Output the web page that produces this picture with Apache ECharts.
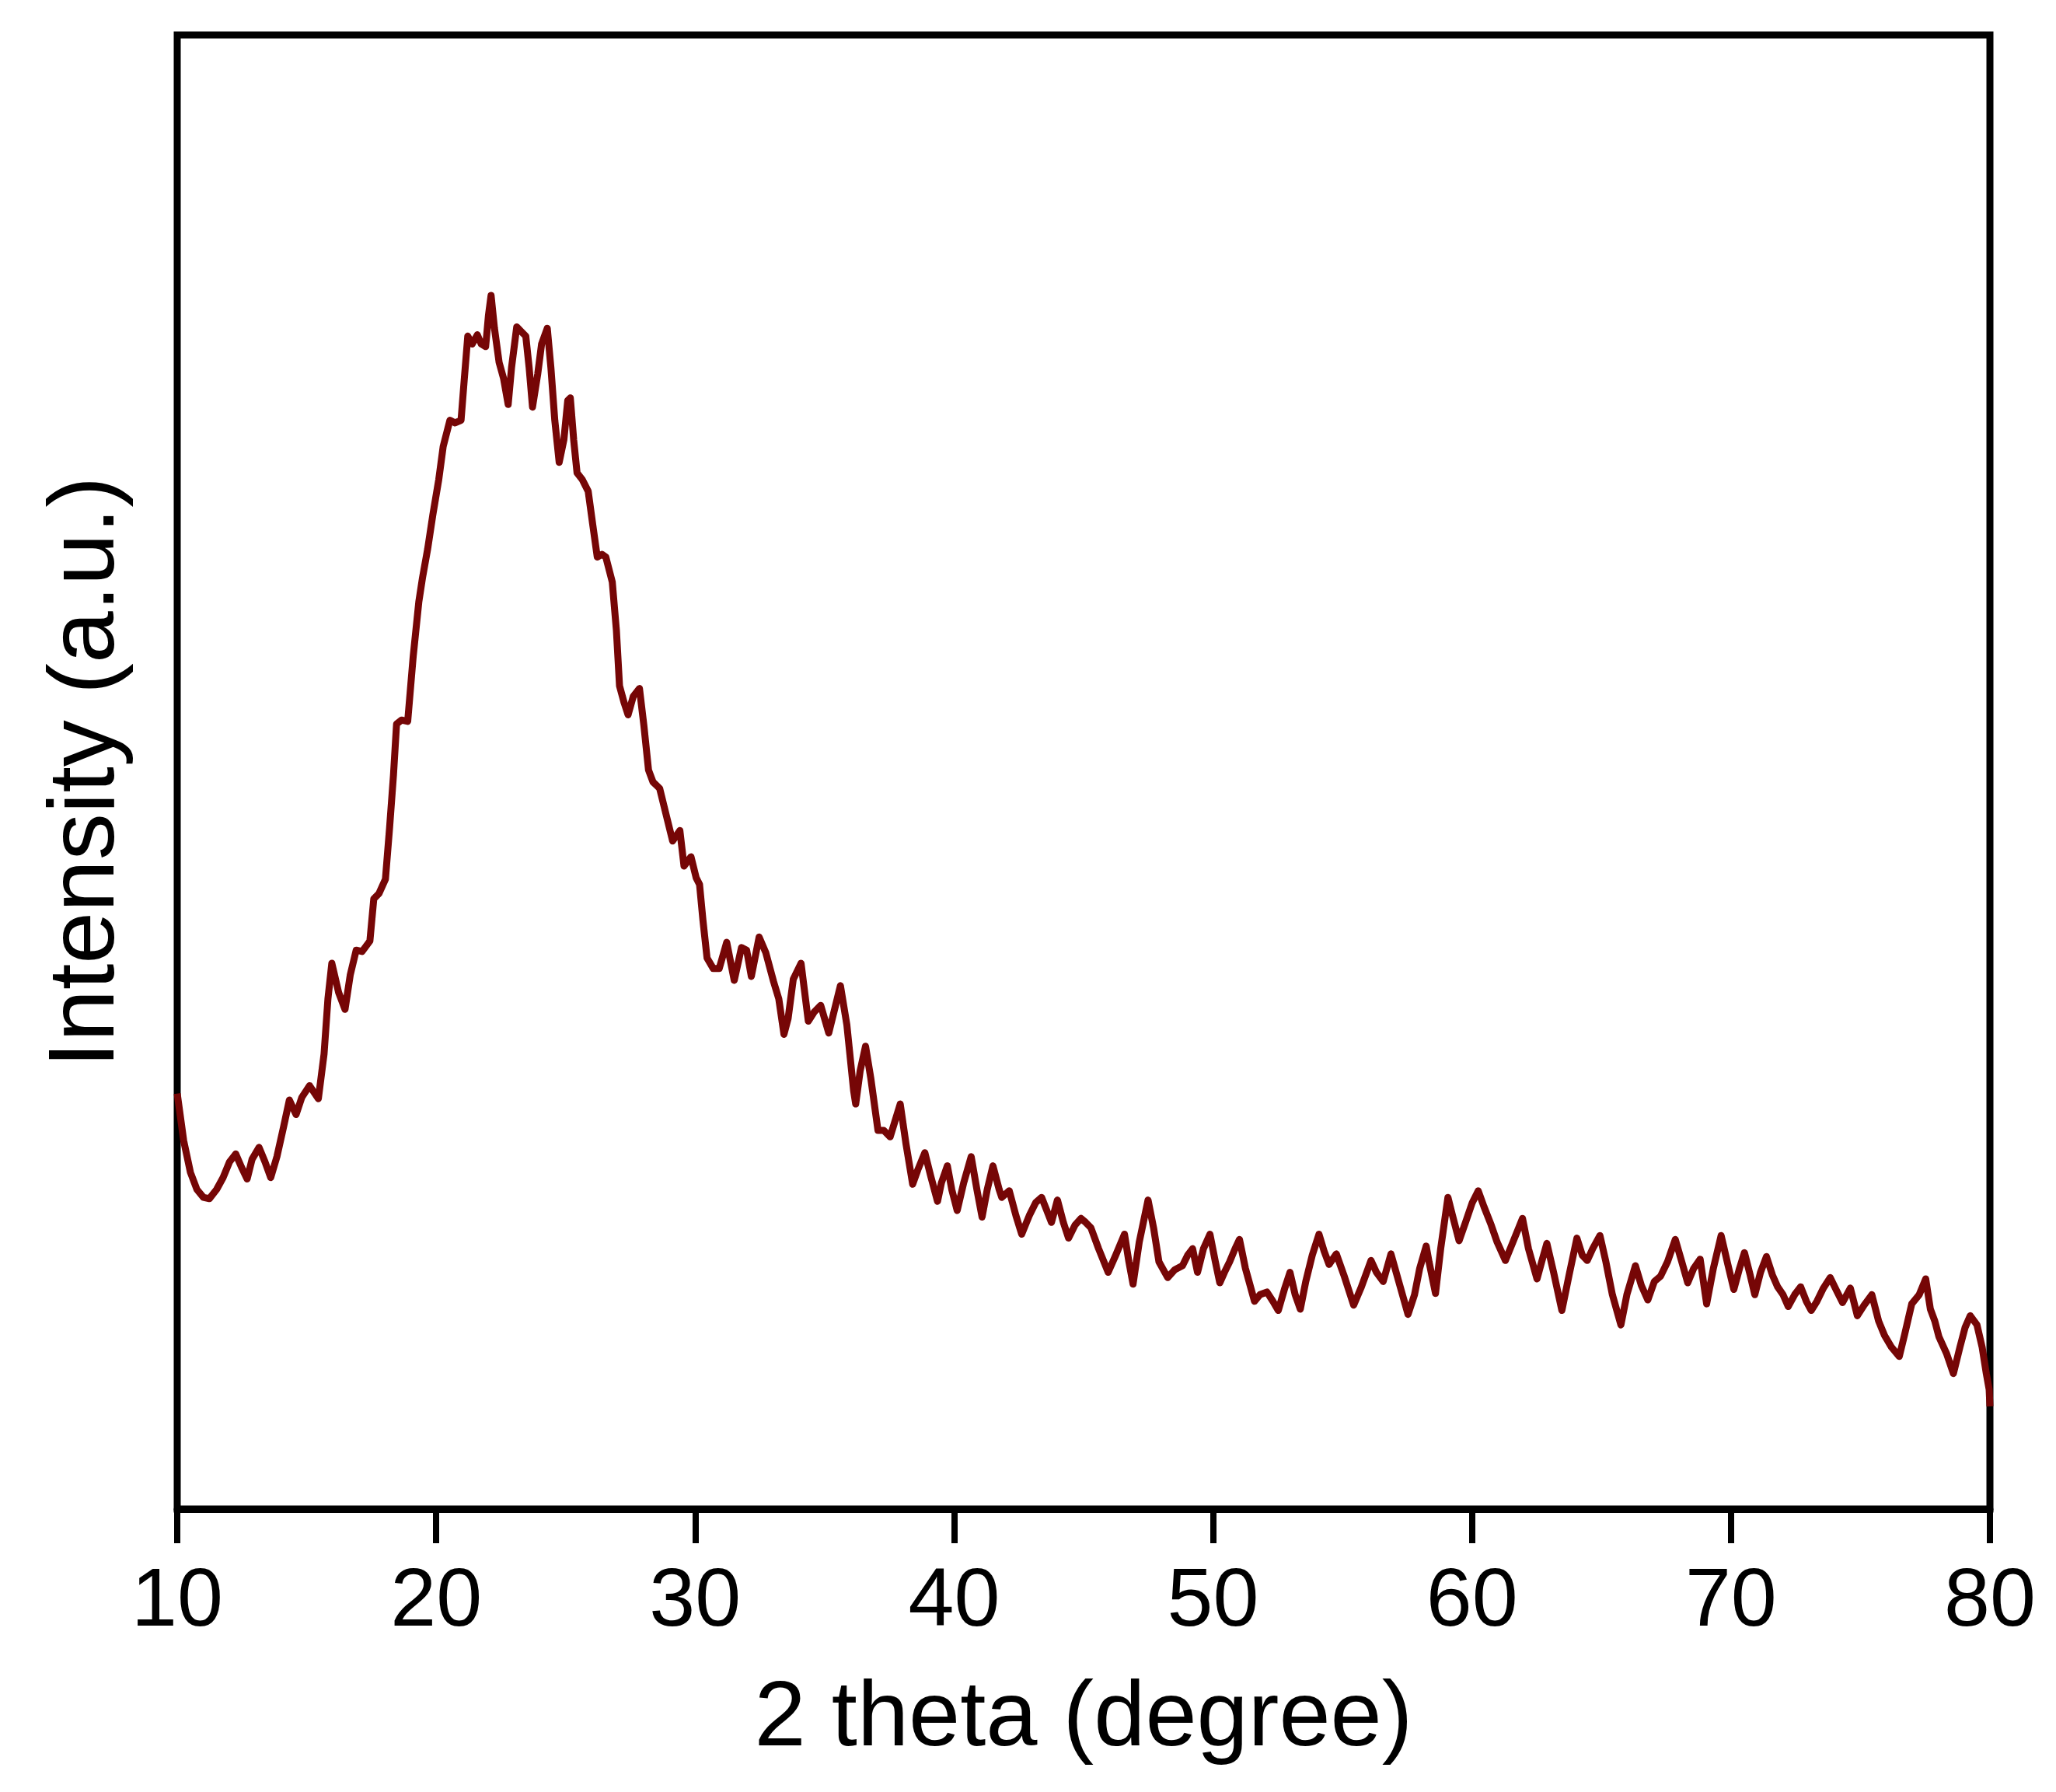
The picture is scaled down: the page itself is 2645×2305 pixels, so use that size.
<!DOCTYPE html>
<html>
<head>
<meta charset="utf-8">
<title>XRD pattern</title>
<script src="https://cdn.jsdelivr.net/npm/echarts@6/dist/echarts.min.js"></script>
<style>
  html, body { margin: 0; padding: 0; background: #fff; }
  #chart { width: 2645px; height: 2305px; }
</style>
</head>
<body>
<div id="chart"></div>
<script>
// 2 theta (degree)
var twoTheta = [
  10.00, 10.25, 10.51, 10.76, 11.01, 11.24, 11.52, 11.77, 12.02, 12.26, 12.48, 12.70, 12.89, 13.16, 13.39, 13.61, 13.85,
  14.10, 14.33, 14.59, 14.81, 15.11, 15.45, 15.67, 15.82, 15.97, 16.23, 16.48, 16.68, 16.91, 17.14, 17.44, 17.59, 17.79,
  18.04, 18.20, 18.35, 18.47, 18.66, 18.90, 19.11, 19.33, 19.47, 19.67, 19.87, 20.10, 20.27, 20.53, 20.73, 20.96, 21.08,
  21.22, 21.39, 21.59, 21.74, 21.91, 22.02, 22.12, 22.25, 22.43, 22.60, 22.78, 22.91, 23.11, 23.26, 23.46, 23.59, 23.72,
  23.92, 24.07, 24.29, 24.43, 24.58, 24.75, 24.93, 25.08, 25.18, 25.31, 25.44, 25.64, 25.87, 26.05, 26.22, 26.40, 26.55,
  26.80, 26.96, 27.08, 27.26, 27.41, 27.61, 27.85, 28.02, 28.20, 28.37, 28.63, 28.88, 29.13, 29.41, 29.57, 29.84, 30.04,
  30.17, 30.30, 30.46, 30.70, 30.93, 31.22, 31.51, 31.79, 31.99, 32.17, 32.47, 32.73, 33.03, 33.23, 33.43, 33.59, 33.79,
  34.09, 34.37, 34.60, 34.85, 35.16, 35.36, 35.61, 35.86, 36.12, 36.20, 36.37, 36.58, 36.78, 37.06, 37.28, 37.53, 37.92,
  38.14, 38.40, 38.60, 38.87, 39.10, 39.36, 39.51, 39.74, 39.91, 40.12, 40.37, 40.66, 40.88, 41.08, 41.28, 41.50, 41.74,
  41.84, 42.13, 42.39, 42.61, 42.90, 43.15, 43.38, 43.56, 43.76, 43.99, 44.22, 44.42, 44.67, 44.90, 45.08, 45.28, 45.58,
  45.95, 46.24, 46.58, 46.75, 46.91, 47.15, 47.49, 47.71, 47.91, 48.25, 48.52, 48.82, 49.02, 49.21, 49.40, 49.63, 49.88,
  50.09, 50.26, 50.44, 50.64, 50.85, 51.02, 51.25, 51.60, 51.81, 52.08, 52.31, 52.52, 52.77, 52.97, 53.17, 53.37, 53.58,
  53.83, 54.09, 54.29, 54.48, 54.76, 55.05, 55.43, 55.71, 56.10, 56.31, 56.57, 56.87, 57.17, 57.53, 57.78, 57.98, 58.23,
  58.34, 58.59, 58.79, 59.07, 59.25, 59.50, 59.75, 60.01, 60.24, 60.46, 60.74, 60.97, 61.29, 61.58, 61.95, 62.18, 62.51,
  62.69, 62.89, 63.15, 63.47, 63.75, 64.05, 64.26, 64.45, 64.66, 64.94, 65.17, 65.42, 65.75, 65.98, 66.31, 66.54, 66.79,
  67.04, 67.28, 67.55, 67.85, 68.10, 68.33, 68.56, 68.81, 69.06, 69.32, 69.62, 69.88, 70.11, 70.33, 70.52, 70.74, 70.92,
  71.14, 71.37, 71.60, 71.80, 72.01, 72.21, 72.46, 72.69, 72.91, 73.10, 73.32, 73.57, 73.83, 74.08, 74.31, 74.61, 74.74,
  74.88, 75.14, 75.44, 75.70, 75.93, 76.20, 76.50, 76.71, 76.98, 77.27, 77.52, 77.70, 77.87, 78.03, 78.33, 78.59, 78.84,
  79.04, 79.24, 79.50, 79.70, 79.86, 79.97, 80.00
];

// intensity (a.u.)
var intensity = [
  316, 280, 256, 243, 237, 236, 243, 252, 264, 270, 260, 251, 266, 275, 264, 252, 268,
  290, 311, 300, 313, 322, 312, 346, 388, 415, 393, 380, 406, 425, 424, 432, 464, 468,
  479, 518, 558, 597, 600, 599, 648, 690, 708, 730, 756, 783, 808, 828, 826, 828, 858,
  892, 886, 893, 886, 884, 908, 923, 898, 872, 860, 840, 868, 899, 896, 892, 868, 838,
  863, 886, 898, 868, 828, 796, 813, 843, 845, 813, 788, 783, 774, 748, 724, 726, 724,
  705, 668, 626, 613, 604, 618, 624, 596, 562, 553, 548, 528, 508, 516, 489, 496, 480,
  475, 448, 419, 411, 411, 431, 402, 427, 425, 405, 435, 423, 401, 388, 361, 373, 403,
  415, 371, 378, 383, 362, 378, 398, 368, 318, 308, 333, 352, 328, 288, 288, 283, 308,
  278, 247, 258, 271, 253, 234, 248, 261, 243, 227, 248, 268, 243, 222, 243, 261, 243,
  237, 242, 223, 209, 223, 233, 237, 228, 218, 235, 218, 206, 216, 221, 218, 214, 198,
  180, 193, 209, 188, 171, 203, 235, 213, 188, 176, 182, 185, 193, 198, 180, 198, 209,
  188, 172, 180, 188, 198, 205, 183, 158, 163, 165, 158, 151, 168, 180, 163, 152, 173,
  193, 209, 196, 186, 194, 178, 155, 168, 189, 180, 173, 194, 173, 148, 163, 183, 200,
  188, 164, 198, 237, 223, 204, 218, 233, 242, 230, 216, 203, 189, 203, 221, 198, 175,
  188, 202, 180, 151, 178, 206, 193, 189, 198, 208, 188, 163, 140, 163, 185, 170, 159,
  173, 177, 188, 205, 188, 172, 183, 190, 156, 183, 208, 186, 167, 183, 195, 178, 163,
  180, 192, 178, 169, 163, 154, 163, 169, 158, 151, 158, 168, 176, 166, 157, 168, 158,
  147, 155, 163, 143, 132, 123, 116, 133, 156, 163, 175, 152, 143, 131, 118, 103, 123,
  138, 147, 140, 123, 103, 91, 78
];

var xTicks = [10, 20, 30, 40, 50, 60, 70, 80];

var points = [];
for (var i = 0; i < twoTheta.length; i++) {
    points.push([twoTheta[i], intensity[i]]);
}

var myChart = echarts.init(document.getElementById('chart'));

var option = {
    backgroundColor: '#fff',
    animation: false,
    grid: {
        left: 228,
        right: 85,
        top: 45,
        bottom: 364,
        show: true,
        borderColor: '#000',
        borderWidth: 9
    },
    xAxis: {
        type: 'value',
        min: xTicks[0],
        max: xTicks[xTicks.length - 1],
        interval: 10,
        name: '2 theta (degree)',
        nameLocation: 'middle',
        nameGap: 212,
        nameTextStyle: {
            fontFamily: 'Liberation Sans',
            fontSize: 119,
            color: '#000'
        },
        axisLine: { show: true, lineStyle: { color: '#000', width: 9 } },
        axisTick: { show: true, inside: false, length: 44, lineStyle: { color: '#000', width: 8 } },
        axisLabel: {
            margin: 68,
            fontFamily: 'Liberation Sans',
            fontSize: 106,
            color: '#000',
            showMinLabel: true,
            showMaxLabel: true
        },
        splitLine: { show: false }
    },
    yAxis: {
        type: 'value',
        min: 0,
        max: 1121,
        name: 'Intensity (a.u.)',
        nameLocation: 'middle',
        nameGap: 55,
        nameTextStyle: {
            fontFamily: 'Liberation Sans',
            fontSize: 120,
            color: '#000'
        },
        axisLine: { show: false },
        axisTick: { show: false },
        axisLabel: { show: false },
        splitLine: { show: false }
    },
    series: [{
        type: 'line',
        data: points,
        showSymbol: false,
        smooth: false,
        lineStyle: { color: '#760606', width: 9, join: 'round' }
    }]
};

myChart.setOption(option);
</script>
</body>
</html>
